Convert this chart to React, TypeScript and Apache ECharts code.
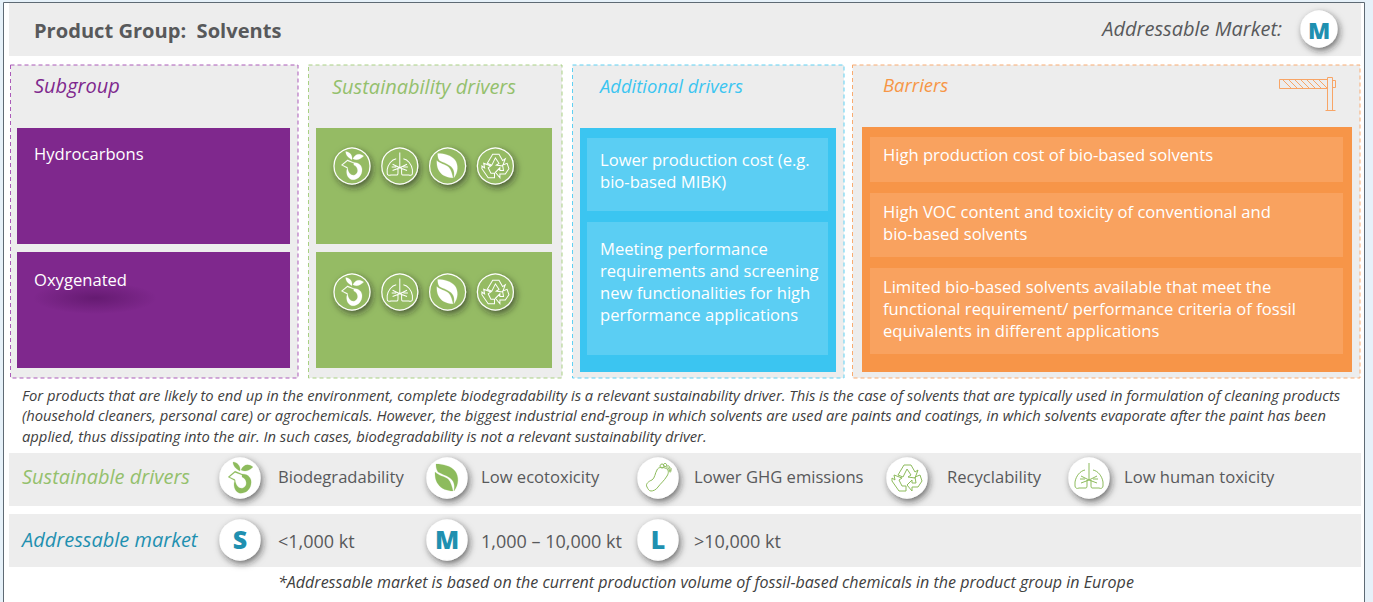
import React, { useEffect, useRef } from "react";
import * as echarts from "echarts";

const FONT = '"Open Sans", sans-serif';

const titleText = "Product Group:  Solvents";
const marketTitle = "Addressable Market:";
const marketValue = "M";
const columnTitles = ["Subgroup", "Sustainability drivers", "Additional drivers", "Barriers"];
const subgroups = ["Hydrocarbons", "Oxygenated"];
const additionalDrivers = [
  ["Lower production cost (e.g.", "bio-based MIBK)"],
  ["Meeting performance", "requirements and screening", "new functionalities for high", "performance applications"],
];
const barriers = [
  ["High production cost of bio-based solvents"],
  ["High VOC content and toxicity of conventional and", "bio-based solvents"],
  ["Limited bio-based solvents available that meet the", "functional requirement/ performance criteria of fossil", "equivalents in different applications"],
];
const paragraph = [
  "For products that are likely to end up in the environment, complete biodegradability is a relevant sustainability driver. This is the case of solvents that are typically used in formulation of cleaning products",
  "(household cleaners, personal care) or agrochemicals. However, the biggest industrial end-group in which solvents are used are paints and coatings, in which solvents evaporate after the paint has been",
  "applied, thus dissipating into the air. In such cases, biodegradability is not a relevant sustainability driver.",
];
const driversLabel = "Sustainable drivers";
const driverLegend = ["Biodegradability", "Low ecotoxicity", "Lower GHG emissions", "Recyclability", "Low human toxicity"];
const driverIcons = ["iconSprout", "iconLeaf", "iconFoot", "iconRecycle", "iconLungs"];
const rowIcons = ["iconSprout", "iconLungs", "iconLeaf", "iconRecycle"];
const marketLabel = "Addressable market";
const marketSizes = ["S", "M", "L"];
const marketRanges = ["<1,000 kt", "1,000 – 10,000 kt", ">10,000 kt"];
const footnote = "*Addressable market is based on the current production volume of fossil-based chemicals in the product group in Europe";

const PATHS: Record<string, string> = {
  iconSprout:
    "M0,-7 C-4,-9 -7,-12 -7,-16 C-3,-16 1,-12 0,-7Z M1,-8 C3,-13 8,-15 13,-11 C9,-7 5,-6 1,-8Z M2,-4 C9,-4 12,1 11,6 C10,13 4,16 -1,15 C-6,13 -7,6 -5,2 C-4,8 -1,11 3,10 C8,8 7,1 2,-1Z M-12,-1 L-5,-7 L2,-4 L2,-3 L-5,-5.6 L-10.5,-1 L-5,1.5 L-5,2.8Z",
  iconLeaf:
    "M-11,-14 C-4,-14 4,-12 8,-7 C12,-2 12,7 7,13 C8,7 7,3 3,0 C-1,-3 -6,-4 -9,-6 C-11,-9 -11,-12 -11,-14Z M-12,-6 C-8,-2 -3,-2 1,1 C4,4 5,9 6,13 C1,13 -6,11 -9,6 C-12,2 -12,-3 -12,-6Z",
  iconFoot:
    "M-11,9 C-13,6 -9,3 -6,2 C-3,0 -3,-5 -1,-8 C0,-11 4,-11 7,-10 C11,-9 11,-5 9,-2 C6,3 3,5 0,9 C-2,12 -5,13 -7,13 C-9,13 -10,11 -11,9Z M4,-14 a2,2 0 1 0 0.1,0Z M7,-14.6 a1.6,1.6 0 1 0 0.1,0Z M10,-12.3 a1.3,1.3 0 1 0 0.1,0Z M12,-10.2 a1.2,1.2 0 1 0 0.1,0Z M12,-8 a1,1 0 1 0 0.1,0Z",
  iconRecycle:
    "M-9,-3 L-3,-13 L4,-13 L8,-6 L11,-8 L8,0 L1,-1 L4,-3 L0,-9 L-4,-1Z M13,-3 L15,3 L11,9 L5,9 L5,13 L0,7 L5,2 L5,5 L9,5 L8,-1Z M-13,-3 L-5,0 L-8,2 L-5,8 L-1,8 L-1,13 L-8,13 L-15,3 L-15,0 L-12,2Z",
  iconLungs:
    "M0,-15 L0,2 M0,2 L-8,-2 M0,2 L-8,5 M-4,1 L-9,1 M0,2 L8,-2 M0,2 L8,5 M4,1 L9,1 M-4,-8 C-9,-7 -13,-2 -14,4 L-14,8 C-14,10 -12,11 -10,10 L-3,10 C-2,10 -2,8 -2,7 L-2,2 M4,-8 C9,-7 13,-2 14,4 L14,8 C14,10 12,11 10,10 L3,10 C2,10 2,8 2,7 L2,2",
  barrierBar:
    "M0,0 L48,0 L48,9 L0,9Z M3,0 L12,9 M9,0 L18,9 M15,0 L24,9 M21,0 L30,9 M27,0 L36,9 M33,0 L42,9 M39,0 L48,9 M53,1 L56,1 L56,8 L53,8 M48,-2 L53,-2 L53,31 L48,31Z M46,31 L56,31",
};
Object.keys(PATHS).forEach((k) => {
  echarts.graphic.registerShape(k, echarts.graphic.extendPath(PATHS[k] as any, {}));
});

const t = (text: string, x: number, y: number, size: number, fill: string, extra: any = {}) => ({
  type: "text",
  silent: true,
  style: {
    text, x, y, fill,
    fontFamily: FONT,
    fontSize: size,
    fontWeight: extra.weight || 400,
    fontStyle: extra.italic ? "italic" : "normal",
    textAlign: extra.align || "left",
    textVerticalAlign: "middle",
  },
});
const r = (x0: number, y0: number, x1: number, y1: number, fill: string, extra: any = {}) => ({
  type: "rect",
  silent: true,
  shape: { x: x0, y: y0, width: x1 - x0, height: y1 - y0 },
  style: { fill, ...extra },
});
const badge = (cx: number, cy: number, rad: number, fill: string, stroke: string) => ({
  type: "circle",
  silent: true,
  shape: { cx, cy, r: rad },
  style: { fill, stroke, lineWidth: 1.2, shadowBlur: 7, shadowOffsetX: 2, shadowOffsetY: 3, shadowColor: "rgba(30,30,30,0.6)" },
});
const icon = (name: string, cx: number, cy: number, scale: number, color: string, solid: boolean) => ({
  type: name,
  silent: true,
  x: cx,
  y: cy,
  scaleX: scale,
  scaleY: scale,
  style: solid
    ? { fill: color, stroke: color, lineWidth: 0.2 }
    : { fill: "none", stroke: color, lineWidth: 1 / scale },
});
const isSolid = (n: string) => n === "iconSprout" || n === "iconLeaf";

const GREY = "#EDEDED";
const INK = "#58595B";
const PURPLE = "#7F288D";
const GREEN = "#95BB64";
const BLUE = "#3BC5F1";
const ORANGE = "#F79548";
const TEAL = "#1F90B0";

function buildGraphics() {
  const g: any[] = [];
  g.push(r(0, 0, 1373, 602, "#E6F1F9"));
  g.push(r(3.5, 2.5, 1364.5, 610, "#FFFFFF", { stroke: "#5E6A74", lineWidth: 1 }));
  g.push(r(9, 3, 1361, 56, GREY));
  g.push(t(titleText, 34, 30, 20.1, INK, { weight: 700 }));
  g.push(t(marketTitle, 1282, 28, 20, INK, { italic: true, align: "right" }));
  g.push(badge(1319, 29, 18, "#FFFFFF", "#FFFFFF"));
  g.push(t(marketValue, 1319, 30, 23, TEAL, { weight: 800, align: "center" }));

  const boxes: [number, number, string][] = [
    [10, 298, "#AB5BB8"],
    [308, 562, "#A9D083"],
    [572, 844, "#5FD0F2"],
    [852, 1360, "#F9AB70"],
  ];
  boxes.forEach(([a, b, c]) => g.push(r(a + 0.5, 65, b, 378, GREY, { stroke: c, lineWidth: 1, lineDash: [4, 3] })));
  g.push(t(columnTitles[0], 34, 85, 20, PURPLE, { italic: true }));
  g.push(t(columnTitles[1], 332, 86, 20, "#94C06C", { italic: true }));
  g.push(t(columnTitles[2], 600, 85, 18.4, "#3BC5F1", { italic: true }));
  g.push(t(columnTitles[3], 883, 84, 18.5, "#F79646", { italic: true }));
  g.push({ type: "barrierBar", silent: true, x: 1279.5, y: 79.5, style: { fill: "none", stroke: "#F8A566", lineWidth: 1 } });

  const rows: [number, number][] = [[128, 244], [252, 368]];
  rows.forEach(([a, b], i) => {
    g.push(r(17, a, 290, b, PURPLE));
    if (i === 1) {
      g.push({
        type: "ellipse",
        silent: true,
        shape: { cx: 95, cy: 298, rx: 62, ry: 16 },
        style: {
          fill: {
            type: "radial", x: 0.5, y: 0.5, r: 0.5,
            colorStops: [
              { offset: 0, color: "rgba(70,10,80,0.45)" },
              { offset: 1, color: "rgba(70,10,80,0)" },
            ],
          },
        },
      });
    }
    g.push(t(subgroups[i], 34, a + 25 + (i === 1 ? 2 : 0), 16.6, "#FFFFFF"));
    g.push(r(316, a, 552, b, GREEN));
    rowIcons.forEach((n, k) => {
      const cx = 352 + k * 47.8;
      const cy = a + 38 + (i === 1 ? 2 : 0);
      g.push(badge(cx, cy, 18, GREEN, "#FFFFFF"));
      g.push(icon(n, cx, cy, 0.9, "#FFFFFF", isSolid(n)));
    });
  });

  g.push(r(580, 128, 836, 372, BLUE));
  const addCells: [number, number, number][] = [[138, 211, 159], [222, 355, 248]];
  addCells.forEach(([a, b, y0], i) => {
    g.push(r(587, a, 828, b, "#5BCEF3"));
    additionalDrivers[i].forEach((line, k) => g.push(t(line, 600, y0 + k * 22, 16.6, "#FFFFFF")));
  });

  g.push(r(862, 127, 1352, 372, ORANGE));
  const barCells: [number, number, number][] = [[137, 182, 154], [193, 257, 211], [268, 354, 286]];
  barCells.forEach(([a, b, y0], i) => {
    g.push(r(870, a, 1343, b, "#F9A25F"));
    barriers[i].forEach((line, k) => g.push(t(line, 883, y0 + k * 22, 16.6, "#FFFFFF")));
  });

  paragraph.forEach((line, k) => g.push(t(line, 22, 395 + k * 20.3, 14.75, "#404040", { italic: true })));

  g.push(r(9, 453, 1361, 506, GREY));
  g.push(t(driversLabel, 22, 476, 20, "#94C06C", { italic: true }));
  const driverCx = [240, 447, 658, 907, 1089];
  const driverTx = [278, 481, 694, 947, 1124];
  driverLegend.forEach((label, i) => {
    g.push(badge(driverCx[i], 478, 20, "#FFFFFF", "#FFFFFF"));
    g.push(icon(driverIcons[i], driverCx[i], 478, 1, "#8DBB5C", isSolid(driverIcons[i])));
    g.push(t(label, driverTx[i], 476, 16.6, INK));
  });

  g.push(r(9, 514, 1361, 567, GREY));
  g.push(t(marketLabel, 22, 539, 20, TEAL, { italic: true }));
  const marketCx = [240, 447, 658];
  const marketTx = [278, 481, 694];
  marketSizes.forEach((s, i) => {
    g.push(badge(marketCx[i], 540, 20, "#FFFFFF", "#FFFFFF"));
    g.push(t(s, marketCx[i], 539, 25, TEAL, { weight: 800, align: "center" }));
    g.push(t(marketRanges[i], marketTx[i], 541, 18, INK));
  });

  g.push(t(footnote, 278, 581.5, 16.05, "#404040", { italic: true }));
  return g;
}

export default function App() {
  const ref = useRef<HTMLDivElement>(null);
  useEffect(() => {
    document.body.style.margin = "0";
    const chart = echarts.init(ref.current!, undefined, { renderer: "svg" });
    chart.setOption({ animation: false, graphic: { elements: buildGraphics() } });
    return () => chart.dispose();
  }, []);
  return <div ref={ref} style={{ width: 1373, height: 602 }} />;
}
